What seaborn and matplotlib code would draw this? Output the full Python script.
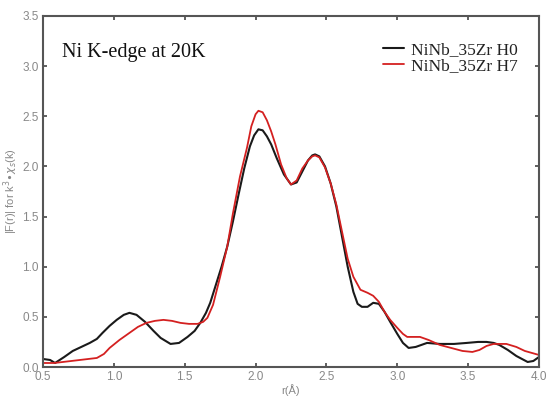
import numpy as np
import pandas as pd
import matplotlib
matplotlib.use("Agg")
import matplotlib.pyplot as plt
import seaborn as sns

# H0 series
x_h0 = [0.5, 0.55, 0.585, 0.65, 0.71, 0.77, 0.83, 0.88, 0.92, 0.97, 1.02, 1.07, 1.11, 1.16, 1.22,
        1.28, 1.33, 1.40, 1.46, 1.52, 1.57, 1.61, 1.65, 1.68, 1.72, 1.76, 1.80, 1.84, 1.88, 1.92,
        1.96, 1.99, 2.02, 2.05, 2.08, 2.11, 2.15, 2.20, 2.25, 2.29, 2.33, 2.37, 2.40, 2.42, 2.45,
        2.49, 2.53, 2.57, 2.61, 2.65, 2.69, 2.72, 2.75, 2.79, 2.83, 2.87, 2.91, 2.95, 3.00, 3.04,
        3.08, 3.13, 3.21, 3.30, 3.40, 3.49, 3.57, 3.63, 3.68, 3.72, 3.78, 3.84, 3.88, 3.92, 3.96, 4.0]
y_h0 = [0.08, 0.07, 0.04, 0.10, 0.16, 0.20, 0.24, 0.28, 0.34, 0.41, 0.47, 0.52, 0.54, 0.52, 0.45,
        0.36, 0.29, 0.23, 0.24, 0.30, 0.36, 0.44, 0.54, 0.64, 0.82, 1.00, 1.20, 1.45, 1.72, 1.98,
        2.20, 2.31, 2.37, 2.36, 2.30, 2.22, 2.08, 1.92, 1.82, 1.84, 1.95, 2.06, 2.11, 2.12, 2.10,
        2.00, 1.83, 1.60, 1.30, 1.00, 0.75, 0.63, 0.60, 0.60, 0.64, 0.63, 0.55, 0.45, 0.33, 0.24,
        0.19, 0.20, 0.24, 0.23, 0.23, 0.24, 0.25, 0.25, 0.24, 0.22, 0.17, 0.11, 0.08, 0.05, 0.06, 0.10]

# H7 series
x_h7 = [0.5, 0.58, 0.64, 0.70, 0.76, 0.82, 0.88, 0.93, 0.97, 1.04, 1.11, 1.17, 1.23, 1.29, 1.35,
        1.41, 1.47, 1.53, 1.59, 1.63, 1.66, 1.70, 1.75, 1.80, 1.84, 1.89, 1.94, 1.97, 2.00, 2.02,
        2.05, 2.08, 2.11, 2.14, 2.18, 2.22, 2.25, 2.29, 2.33, 2.37, 2.40, 2.42, 2.45, 2.49, 2.53,
        2.57, 2.61, 2.65, 2.69, 2.74, 2.79, 2.83, 2.87, 2.91, 2.95, 3.00, 3.04, 3.07, 3.12, 3.16,
        3.22, 3.30, 3.38, 3.46, 3.53, 3.58, 3.63, 3.68, 3.77, 3.84, 3.90, 3.95, 4.0]
y_h7 = [0.04, 0.04, 0.05, 0.06, 0.07, 0.08, 0.09, 0.13, 0.19, 0.27, 0.34, 0.40, 0.44, 0.46, 0.47,
        0.46, 0.44, 0.43, 0.43, 0.45, 0.49, 0.62, 0.90, 1.20, 1.53, 1.90, 2.19, 2.40, 2.52, 2.555,
        2.54, 2.46, 2.35, 2.22, 2.02, 1.88, 1.82, 1.86, 1.98, 2.06, 2.10, 2.11, 2.09, 1.99, 1.83,
        1.62, 1.35, 1.08, 0.90, 0.77, 0.74, 0.71, 0.65, 0.55, 0.47, 0.39, 0.33, 0.30, 0.30, 0.30,
        0.27, 0.22, 0.19, 0.16, 0.15, 0.17, 0.21, 0.23, 0.23, 0.20, 0.16, 0.14, 0.12]

labels = ["NiNb_35Zr H0", "NiNb_35Zr H7"]
x_ticks = [0.5, 1.0, 1.5, 2.0, 2.5, 3.0, 3.5, 4.0]
y_ticks = [0.0, 0.5, 1.0, 1.5, 2.0, 2.5, 3.0, 3.5]

sns.set_style("white")
plt.rcParams['font.family'] = ['Liberation Sans', 'DejaVu Sans']

fig = plt.figure(figsize=(5.46, 4.01), dpi=100)
ax = fig.add_axes([43/546, 34/401, (539-43)/546, (367-16)/401])

df0 = pd.DataFrame({"r": x_h0, "F": y_h0})
df7 = pd.DataFrame({"r": x_h7, "F": y_h7})
sns.lineplot(data=df0, x="r", y="F", ax=ax, color="#1a1a1a", lw=1.5, label=labels[0], sort=False)
sns.lineplot(data=df7, x="r", y="F", ax=ax, color="#d42020", lw=1.3, label=labels[1], sort=False)

ax.set_xlim(0.5, 4.0)
ax.set_ylim(0.0, 3.5)
ax.set_xticks(x_ticks)
ax.set_yticks(y_ticks)
ax.set_xticklabels([f"{v:.1f}" for v in x_ticks])
ax.set_yticklabels([f"{v:.1f}" for v in y_ticks])
ax.tick_params(axis='both', which='both', direction='in', length=3, width=1.2,
               colors="#444444", labelcolor="#888888", labelsize=8.5,
               top=True, right=True, bottom=True, left=True, pad=3)
for s in ax.spines.values():
    s.set_color("#555555")
    s.set_linewidth(1.5)

ax.set_xlabel("r(Å)", color="#888888", fontsize=8, labelpad=1)
ax.set_ylabel(r"|F(r)| for k$^{3}$$\bullet$$\chi_{s}$(k)", color="#888888", fontsize=8, labelpad=2)

ax.text(0.038, 0.897, "Ni K-edge at 20K", transform=ax.transAxes, fontsize=14.5,
        family="Liberation Serif", color="#111111", va="center", ha="left")

leg = ax.legend(loc="upper right", bbox_to_anchor=(0.982, 0.962), frameon=False,
                prop={"family": "Liberation Serif", "size": 12.5}, handlelength=1.25,
                handletextpad=0.4, labelspacing=0.0, borderpad=0.2)
for t in leg.get_texts():
    t.set_color("#222222")

fig.savefig("out.png", dpi=100)
